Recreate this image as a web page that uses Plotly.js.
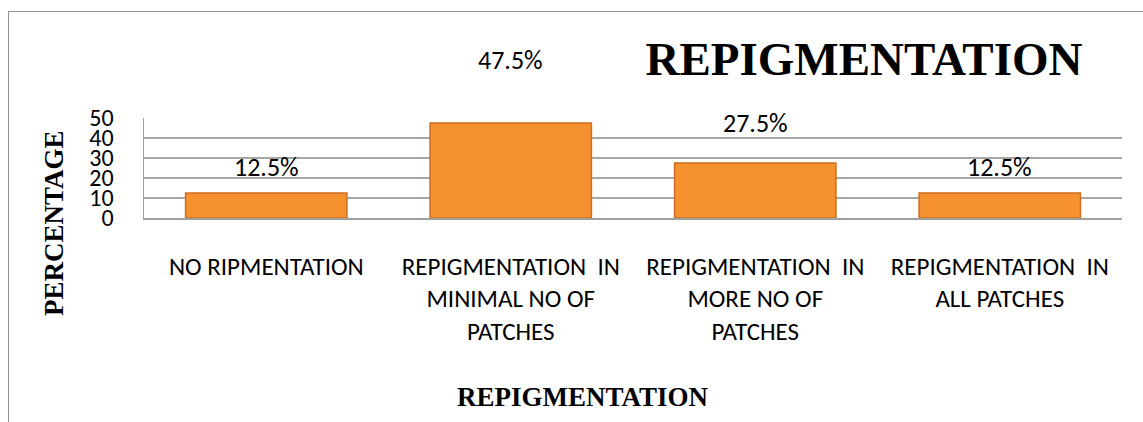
<!DOCTYPE html>
<html>
<head>
<meta charset="utf-8">
<script src="https://cdn.plot.ly/plotly-3.0.1.min.js"></script>
<style>
  html, body { margin: 0; padding: 0; background: #ffffff; }
  #wrap { position: relative; width: 1143px; height: 422px; overflow: hidden; }
  #chart { position: absolute; left: 0; top: 0; width: 1143px; height: 422px; }
  #frame { position: absolute; left: 8px; top: 11px; width: 1200px; height: 500px;
           border-left: 1.5px solid #8f8f8f; border-top: 1.5px solid #8f8f8f; pointer-events: none; }
</style>
</head>
<body>
<div id="wrap">
  <div id="chart"></div>
  <div id="frame"></div>
</div>
<script>
// ---- data ----
const categories = ["NO RIPMENTATION", "MINIMAL", "MORE", "ALL"];
const tickLabels = [
  "NO RIPMENTATION",
  "REPIGMENTATION\u00a0\u00a0IN<br>MINIMAL NO OF<br>PATCHES",
  "REPIGMENTATION\u00a0\u00a0IN<br>MORE NO OF<br>PATCHES",
  "REPIGMENTATION\u00a0\u00a0IN<br>ALL PATCHES"
];
const percentages = [12.5, 47.5, 27.5, 12.5];
const valueLabels = ["12.5%", "47.5%", "27.5%", "12.5%"];
const yTicks = [0, 10, 20, 30, 40, 50];
const chartTitle = "REPIGMENTATION";
const xTitle = "REPIGMENTATION";
const yTitle = "PERCENTAGE";

// ---- style (label lift above bar tops, in px) ----
const labelLift = [26, 63, 40, 26];

const sansFont = "Carlito, Calibri, Lato, sans-serif";
const serifFont = "'Liberation Serif', 'Times New Roman', serif";

const trace = {
  type: "bar",
  x: categories,
  y: percentages,
  width: 0.66,
  marker: { color: "#F5922F", line: { color: "#CC6E1F", width: 1.5 } },
  hoverinfo: "skip"
};

const annotations = categories.map((c, i) => ({
  x: c, y: percentages[i], xref: "x", yref: "y",
  text: valueLabels[i], showarrow: false,
  yanchor: "middle", yshift: labelLift[i],
  font: { family: sansFont, size: 26, color: "#000000" }
}));

// axis titles (placed like the reference, off-centre)
annotations.push({
  xref: "paper", yref: "paper", x: (583 - 144) / 978, y: (218 - 397) / 100,
  xanchor: "center", yanchor: "middle", showarrow: false,
  text: "<b>" + xTitle + "</b>",
  font: { family: serifFont, size: 27, color: "#000000" }
});
annotations.push({
  xref: "paper", yref: "paper", x: (54 - 144) / 978, y: (218 - 223) / 100,
  xanchor: "center", yanchor: "middle", showarrow: false, textangle: -90,
  text: "<b>" + yTitle + "</b>",
  font: { family: serifFont, size: 27, color: "#000000" }
});

const layout = {
  width: 1143, height: 422,
  margin: { l: 144, r: 21, t: 118, b: 204 },
  paper_bgcolor: "#ffffff", plot_bgcolor: "#ffffff",
  showlegend: false,
  title: {
    text: "<b>" + chartTitle + "</b>",
    xref: "container", yref: "container",
    x: 864 / 1143, xanchor: "center",
    y: 1 - 59 / 422, yanchor: "middle",
    font: { family: serifFont, size: 47, color: "#000000" }
  },
  xaxis: {
    type: "category",
    tickvals: categories, ticktext: tickLabels,
    showgrid: false, zeroline: false,
    showline: true, linecolor: "#a0a0a0", linewidth: 1.5,
    ticks: "", ticklabelstandoff: 25,
    tickfont: { family: sansFont, size: 25, color: "#000000" }
  },
  yaxis: {
    range: [0, 50], tickvals: yTicks, ticktext: yTicks.map(String),
    showgrid: true, gridcolor: "#a6a6a6", gridwidth: 1.5,
    zeroline: false,
    showline: true, linecolor: "#a0a0a0", linewidth: 1.5,
    ticks: "", ticklabelstandoff: 24,
    tickfont: { family: sansFont, size: 24, color: "#000000" }
  },
  annotations: annotations
};

Plotly.newPlot("chart", [trace], layout, { displayModeBar: false, staticPlot: true });
</script>
</body>
</html>
